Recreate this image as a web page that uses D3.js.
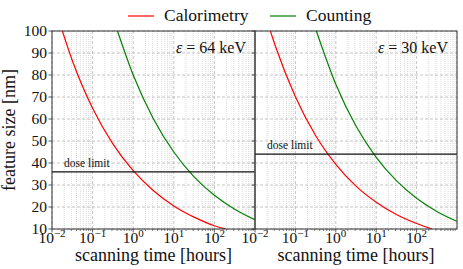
<!DOCTYPE html>
<html><head><meta charset="utf-8">
<script src="https://cdn.jsdelivr.net/npm/d3@7"></script>
<style>body{margin:0;background:#fff} text{font-family:"Liberation Serif","Times New Roman",serif;fill:#111}</style>
</head><body><svg id="c" width="463" height="269"></svg>
<script>
// ---- data ----
const energies = ["64", "30"];
const doseLimits = [36, 44];
const cal64T = [0.018, 0.0316, 0.1, 0.316, 1, 3.16, 10, 31.6, 100, 190];
const cal64S = [100, 86.6, 64.9, 48.7, 36.5, 27.4, 20.5, 15.4, 11.5, 10];
const cnt64T = [0.41, 1, 3.16, 10, 31.6, 100, 316, 1000];
const cnt64S = [100, 80, 60, 45, 33.7, 25.3, 19.0, 14.2];
const cal30T = [0.024, 0.0316, 0.1, 0.316, 1, 3.16, 10, 31.6, 100, 240];
const cal30S = [100, 93.4, 70.1, 52.5, 39.4, 29.5, 22.2, 16.6, 12.5, 10];
const cnt30T = [0.33, 1, 3.16, 10, 31.6, 100, 316, 1000];
const cnt30S = [100, 75.8, 56.8, 42.6, 32.0, 24.0, 18.0, 13.5];
const yTicks = [10, 20, 30, 40, 50, 60, 70, 80, 90, 100];
const xTickExp = [-2, -1, 0, 1, 2];
const seriesNames = ["Calorimetry", "Counting"];
const seriesColors = ["#ff0000", "#008000"];

const svg = d3.select("#c");
const yTop = 31, yBot = 229;
const y = d3.scaleLinear().domain([10, 100]).range([yBot, yTop]);
const panels = [
  {x0: 52, x1: 255, e: energies[0], dose: doseLimits[0], series: [[cal64T, cal64S], [cnt64T, cnt64S]]},
  {x0: 255, x1: 457, e: energies[1], dose: doseLimits[1], series: [[cal30T, cal30S], [cnt30T, cnt30S]]}
];

panels.forEach((p, pi) => {
  const x = d3.scaleLog().domain([1e-2, 1e3]).range([p.x0, p.x1]);
  const g = svg.append("g");
  const clipId = "clip" + pi;
  svg.append("clipPath").attr("id", clipId).append("rect")
    .attr("x", p.x0).attr("y", yTop).attr("width", p.x1 - p.x0).attr("height", yBot - yTop);
  const minor = [];
  for (let e = -2; e < 3; e++) for (let m = 2; m <= 9; m++) minor.push(m * Math.pow(10, e));
  g.selectAll(".vmin").data(minor).join("line")
    .attr("x1", d => x(d)).attr("x2", d => x(d)).attr("y1", yTop).attr("y2", yBot)
    .attr("stroke", "#d0d0d0").attr("stroke-width", 0.8).attr("stroke-dasharray", "1,1");
  const major = [1e-2, 1e-1, 1, 10, 100, 1000];
  g.selectAll(".vmaj").data(major).join("line")
    .attr("x1", d => x(d)).attr("x2", d => x(d)).attr("y1", yTop).attr("y2", yBot)
    .attr("stroke", "#b8b8b8").attr("stroke-width", 0.8).attr("stroke-dasharray", "3,2");
  g.selectAll(".hg").data(yTicks).join("line")
    .attr("x1", p.x0).attr("x2", p.x1).attr("y1", d => y(d)).attr("y2", d => y(d))
    .attr("stroke", "#b8b8b8").attr("stroke-width", 0.8).attr("stroke-dasharray", "3,2");

  const line = d3.line().x(d => x(d[0])).y(d => y(d[1])).curve(d3.curveMonotoneX);
  p.series.forEach((s, si) => {
    const pts = s[0].map((t, i) => [t, s[1][i]]);
    g.append("path").attr("d", line(pts)).attr("fill", "none")
      .attr("stroke", seriesColors[si]).attr("stroke-width", 1.2).attr("clip-path", `url(#${clipId})`);
  });

  g.append("line").attr("x1", p.x0).attr("x2", p.x1).attr("y1", y(p.dose)).attr("y2", y(p.dose))
    .attr("stroke", "#111").attr("stroke-width", 1.2);
  g.append("text").attr("x", p.x0 + 12).attr("y", y(p.dose) - 5).attr("font-size", 11.5).text("dose limit");

  const et = g.append("text").attr("x", p.x1 - 9).attr("y", 53).attr("text-anchor", "end").attr("font-size", 16);
  et.append("tspan").attr("font-style", "italic").text("ε");
  et.append("tspan").text(" = " + p.e + " keV");

  g.append("rect").attr("x", p.x0).attr("y", yTop).attr("width", p.x1 - p.x0).attr("height", yBot - yTop)
    .attr("fill", "none").attr("stroke", "#333").attr("stroke-width", 1);

  g.selectAll(".xmt").data(minor).join("line")
    .attr("x1", d => x(d)).attr("x2", d => x(d)).attr("y1", yBot).attr("y2", yBot + 2)
    .attr("stroke", "#333").attr("stroke-width", 0.6);
  xTickExp.forEach(ex => {
    const xv = x(Math.pow(10, ex));
    g.append("line").attr("x1", xv).attr("x2", xv).attr("y1", yBot).attr("y2", yBot + 3.5)
      .attr("stroke", "#333").attr("stroke-width", 0.8);
    const t = g.append("text").attr("x", xv).attr("y", 243).attr("text-anchor", "middle").attr("font-size", 15.5);
    t.append("tspan").text("10");
    t.append("tspan").attr("dy", -6).attr("font-size", 11).text(ex < 0 ? "\u2212" + (-ex) : String(ex));
  });
  g.selectAll(".yt").data(yTicks).join("line")
    .attr("x1", p.x0 - 3.5).attr("x2", p.x0).attr("y1", d => y(d)).attr("y2", d => y(d))
    .attr("stroke", "#333").attr("stroke-width", 0.8);
  if (pi === 0) {
    g.selectAll(".yl").data(yTicks).join("text")
      .attr("x", p.x0 - 5).attr("y", d => y(d)).attr("dy", "0.33em").attr("text-anchor", "end")
      .attr("font-size", 15.5).text(d => d);
    svg.append("text").attr("transform", `translate(15,${(yTop + yBot) / 2}) rotate(-90)`)
      .attr("text-anchor", "middle").attr("font-size", 18).text("feature size [nm]");
  }
  svg.append("text").attr("x", (p.x0 + p.x1) / 2).attr("y", 261).attr("text-anchor", "middle")
    .attr("font-size", 18).text("scanning time [hours]");
});

const leg = [[128, 164], [270, 306]];
seriesNames.forEach((n, i) => {
  svg.append("line").attr("x1", leg[i][0]).attr("x2", leg[i][0] + 26).attr("y1", 16).attr("y2", 16)
    .attr("stroke", seriesColors[i]).attr("stroke-width", 1.2);
  svg.append("text").attr("x", leg[i][1]).attr("y", 21).attr("font-size", 17.5).text(n);
});
</script></body></html>
